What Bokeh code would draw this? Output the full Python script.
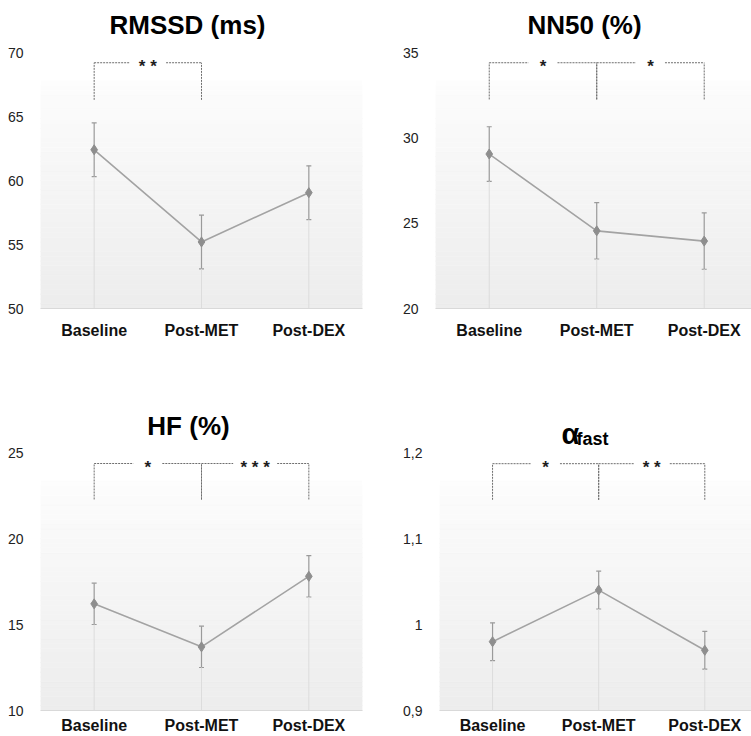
import numpy as np
from bokeh.plotting import figure
from bokeh.models import (FixedTicker, CustomJSTickFormatter, Label, Whisker,
                          ColumnDataSource, TeeHead, Range1d)
from bokeh.layouts import row, column
from bokeh.embed import file_html
from bokeh.resources import INLINE
from bokeh.core.properties import value

# ---------------- data ----------------
categories = ["Baseline", "Post-MET", "Post-DEX"]

rmssd_mean = [62.4, 55.2, 59.05]
rmssd_err = [2.1, 2.1, 2.1]
rmssd_ticks = [50, 55, 60, 65, 70]
rmssd_pairs = [(0, 1)]
rmssd_stars = ["* *"]
rmssd_bracket_top = 69.2
rmssd_bracket_bottom = 66.3

nn50_mean = [29.05, 24.55, 23.95]
nn50_err = [1.6, 1.65, 1.65]
nn50_ticks = [20, 25, 30, 35]
nn50_pairs = [(0, 1), (1, 2)]
nn50_stars = ["*", "*"]
nn50_bracket_top = 34.4
nn50_bracket_bottom = 32.25

hf_mean = [16.2, 13.7, 17.8]
hf_err = [1.2, 1.2, 1.2]
hf_ticks = [10, 15, 20, 25]
hf_pairs = [(0, 1), (1, 2)]
hf_stars = ["*", "* * *"]
hf_bracket_top = 24.36
hf_bracket_bottom = 22.27

alpha_mean = [0.98, 1.04, 0.97]
alpha_err = [0.022, 0.022, 0.022]
alpha_ticks = [0.9, 1.0, 1.1, 1.2]
alpha_pairs = [(0, 1), (1, 2)]
alpha_stars = ["*", "* *"]
alpha_bracket_top = 1.187
alpha_bracket_bottom = 1.145

FONT = "Liberation Sans"


def make_panel(means, errs, ticks, pairs, stars, btop, bbot,
               width, height, mb_left, mb_right, mb_bottom, data_px, x_end,
               standoff):
    x = list(range(len(categories)))
    y0, y1 = ticks[0], ticks[-1]
    frame_px = height - mb_bottom
    y_top = y1 + (frame_px - data_px) * (y1 - y0) / data_px
    p = figure(width=width, height=height, title=None,
               x_range=Range1d(-0.5, x_end), y_range=Range1d(y0, y_top),
               output_backend="svg", toolbar_location=None,
               min_border_left=mb_left, min_border_right=mb_right,
               min_border_top=0, min_border_bottom=mb_bottom)
    p.outline_line_color = None
    p.grid.visible = False
    p.background_fill_color = "white"
    p.border_fill_color = "white"

    # gradient plot-area background (decoration)
    n = 48
    gtop = y0 + 0.89 * (y1 - y0)
    lv = np.linspace(y0, gtop, n + 1)
    shades = np.linspace(237, 253, n).astype(int)
    cols = ["#%02x%02x%02x" % (s, s, s) for s in shades]
    p.quad(left=-0.5, right=x_end, bottom=lv[:-1], top=lv[1:],
           fill_color=cols, line_color=cols, line_width=0.5, level="image")

    lo = [m - e for m, e in zip(means, errs)]
    hi = [m + e for m, e in zip(means, errs)]
    src = ColumnDataSource(dict(x=x, y=means, lo=lo, hi=hi, base=[y0] * len(x)))

    # drop lines
    p.segment(x0="x", y0="base", x1="x", y1="lo", source=src,
              line_color="#dcdcdc", line_width=1)

    # error bars
    wh = Whisker(source=src, base="x", upper="hi", lower="lo",
                 line_color="#9a9a9a", line_width=1.2,
                 upper_head=TeeHead(size=5, line_color="#9a9a9a", line_width=1.2),
                 lower_head=TeeHead(size=5, line_color="#9a9a9a", line_width=1.2))
    p.add_layout(wh)

    p.line(x="x", y="y", source=src, line_color="#a3a3a3", line_width=1.6)
    p.scatter(x="x", y="y", source=src, marker="diamond", size=10,
              fill_color="#8e8e8e", line_color="#8e8e8e")

    # significance brackets
    for (i, j), s in zip(pairs, stars):
        mid = (i + j) / 2
        nst = s.count("*")
        gap = 0.1 + 0.035 * nst
        p.segment(x0=[i, j, i, mid + gap], y0=[bbot, bbot, btop, btop],
                  x1=[i, j, mid - gap, j], y1=[btop, btop, btop, btop],
                  line_color="#6e6e6e", line_width=1, line_dash="2 1")
        p.text(x=[mid], y=[btop], text=[s], text_font=value(FONT),
               text_font_size="17px", text_font_style="bold", text_align="center",
               text_baseline="middle", y_offset=4, text_color="#1e1e1e")

    # axes
    p.xaxis.ticker = FixedTicker(ticks=x, minor_ticks=[])
    p.xaxis.major_label_overrides = {i: c for i, c in enumerate(categories)}
    p.xaxis.major_label_text_font = FONT
    p.xaxis.major_label_text_font_style = "bold"
    p.xaxis.major_label_text_font_size = "16px"
    p.xaxis.major_label_text_color = "#111111"
    p.xaxis.axis_line_color = "#d9d9d9"
    p.xaxis.major_tick_line_color = None
    p.xaxis.minor_tick_line_color = None
    p.xaxis.major_label_standoff = standoff

    p.yaxis.ticker = FixedTicker(ticks=ticks, minor_ticks=[])
    p.yaxis.formatter = CustomJSTickFormatter(code="return String(tick).replace('.', ',');")
    p.yaxis.major_label_text_font = FONT
    p.yaxis.major_label_text_font_size = "14px"
    p.yaxis.major_label_text_color = "#222222"
    p.yaxis.axis_line_color = None
    p.yaxis.major_tick_line_color = None
    p.yaxis.minor_tick_line_color = None
    p.yaxis.major_label_standoff = 11
    return p


def title_label(p, text, sx, sy, size="26px", align="center", baseline="middle"):
    p.add_layout(Label(x=sx, y=sy, x_units="screen", y_units="screen", text=text,
                       text_font=FONT, text_font_size=size, text_font_style="bold",
                       text_align=align, text_baseline=baseline, text_color="#000000"))


p1 = make_panel(rmssd_mean, rmssd_err, rmssd_ticks, rmssd_pairs, rmssd_stars,
                rmssd_bracket_top, rmssd_bracket_bottom,
                375, 368, 40, 13, 60, 256, 2.5, 7)
title_label(p1, "RMSSD (ms)", 147, 284)

p2 = make_panel(nn50_mean, nn50_err, nn50_ticks, nn50_pairs, nn50_stars,
                nn50_bracket_top, nn50_bracket_bottom,
                376, 368, 60, 0, 60, 256, 2.44, 7)
title_label(p2, "NN50 (%)", 149, 284)

p3 = make_panel(hf_mean, hf_err, hf_ticks, hf_pairs, hf_stars,
                hf_bracket_top, hf_bracket_bottom,
                375, 368, 40, 13, 26, 258, 2.5, 0)
title_label(p3, "HF (%)", 148, 285)

p4 = make_panel(alpha_mean, alpha_err, alpha_ticks, alpha_pairs, alpha_stars,
                alpha_bracket_top, alpha_bracket_bottom,
                376, 368, 64, 0, 26, 258, 2.44, 0)
title_label(p4, "α", 122, 277, size="29px", align="left", baseline="alphabetic")
title_label(p4, "fast", 137, 272, size="18px", align="left", baseline="alphabetic")

layout = column(row(p1, p2), row(p3, p4))
open("out.html", "w").write(file_html(layout, INLINE))
